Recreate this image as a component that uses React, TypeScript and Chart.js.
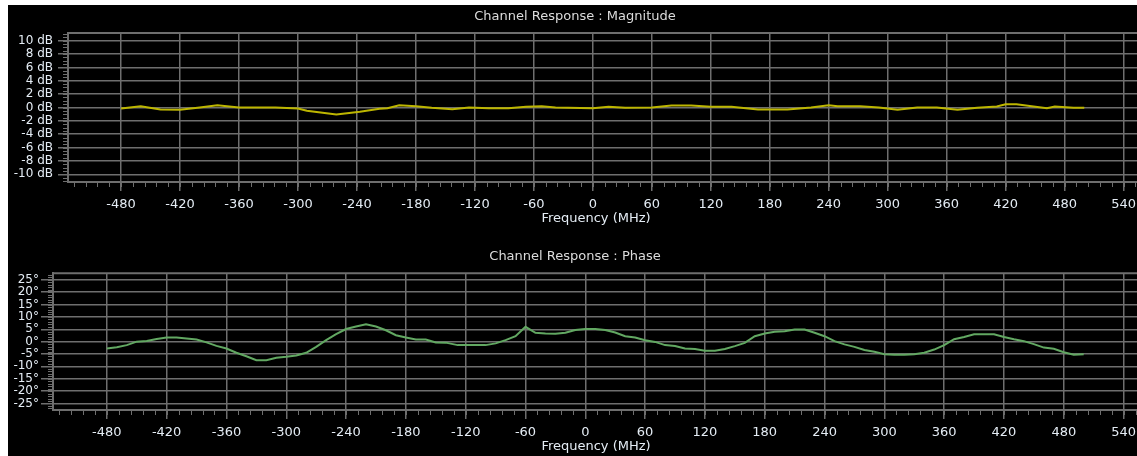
import React, { useEffect, useRef } from 'react';
import { Chart, registerables } from 'chart.js';

Chart.register(...registerables);

// ---------- data ----------
const freqTicks = [-480, -420, -360, -300, -240, -180, -120, -60, 0, 60, 120, 180, 240, 300, 360, 420, 480, 540];
const magTicks = [-10, -8, -6, -4, -2, 0, 2, 4, 6, 8, 10];
const phaseTicks = [-25, -20, -15, -10, -5, 0, 5, 10, 15, 20, 25];

const magFreq = [-480, -460, -440, -420, -400, -382, -360, -323, -300, -291, -261, -237, -217, -209, -197, -180, -164, -143, -126, -106, -86, -68, -52, -38, 0, 16, 33, 60, 80, 100, 120, 141, 168, 198, 222, 240, 249, 272, 291, 310, 330, 350, 371, 391, 411, 420, 431, 462, 470, 489, 500];
const magDb = [-0.15, 0.2, -0.3, -0.35, 0.0, 0.35, 0.0, 0.0, -0.15, -0.5, -1.05, -0.65, -0.2, -0.1, 0.35, 0.2, -0.05, -0.25, 0.0, -0.1, -0.1, 0.1, 0.2, 0.0, -0.1, 0.1, -0.05, 0.0, 0.3, 0.3, 0.1, 0.1, -0.3, -0.3, 0.0, 0.35, 0.2, 0.2, 0.0, -0.35, 0.0, 0.0, -0.35, -0.05, 0.15, 0.5, 0.5, -0.1, 0.15, -0.05, -0.05];

const phaseFreq = [-480, -470, -460, -450, -440, -430, -420, -410, -400, -390, -380, -370, -360, -350, -340, -330, -320, -310, -300, -290, -280, -270, -260, -250, -240, -230, -220, -210, -200, -190, -180, -170, -160, -150, -140, -128, -120, -100, -90, -80, -70, -60, -50, -40, -30, -20, -10, 0, 10, 20, 30, 40, 50, 60, 70, 80, 90, 100, 110, 120, 130, 140, 150, 160, 170, 180, 190, 200, 210, 220, 230, 240, 250, 260, 270, 280, 290, 300, 310, 320, 330, 340, 350, 360, 370, 380, 390, 400, 410, 420, 430, 440, 450, 460, 470, 480, 490, 500];
const phaseDeg = [-2.75, -2.3, -1.4, 0.0, 0.3, 1.1, 1.7, 1.7, 1.3, 0.9, -0.3, -1.7, -2.8, -4.5, -5.9, -7.5, -7.5, -6.5, -6.1, -5.6, -4.5, -2.1, 0.6, 3.0, 5.1, 6.1, 7.0, 6.1, 4.6, 2.6, 1.7, 0.9, 0.9, -0.3, -0.4, -1.4, -1.4, -1.4, -0.7, 0.6, 2.2, 6.0, 3.6, 3.3, 3.2, 3.6, 4.7, 5.1, 5.1, 4.7, 3.7, 2.2, 1.7, 0.6, -0.1, -1.4, -1.8, -2.8, -3.0, -3.7, -3.7, -3.0, -1.8, -0.5, 2.2, 3.3, 4.0, 4.2, 4.9, 4.9, 3.6, 2.2, 0.2, -1.1, -2.1, -3.4, -4.1, -5.1, -5.3, -5.3, -5.1, -4.5, -3.2, -1.4, 1.0, 1.9, 3.0, 3.0, 3.0, 1.9, 1.0, 0.2, -1.0, -2.4, -2.9, -4.3, -5.3, -5.1];

// ---------- styles ----------
const FONT = 'DejaVu Sans';
const GRID = '#6e6e6e';
const TXT = '#e4ecf4';
const TITLE = '#dcdcdc';
const X_TITLE = 'Frequency (MHz)';

const frameAndMinorTicks = {
  id: 'frameAndMinorTicks',
  beforeDatasetsDraw(chart: any, _args: any, opts: any) {
    const { ctx, chartArea, scales } = chart;
    const xs = scales.x;
    const ys = scales.y;
    ctx.save();
    ctx.strokeStyle = opts.color;
    ctx.lineWidth = 1;
    ctx.beginPath();
    for (let v = opts.xStart; v <= xs.max; v += opts.xStep) {
      const px = Math.round(xs.getPixelForValue(v)) + 0.5;
      ctx.moveTo(px, chartArea.bottom);
      ctx.lineTo(px, chartArea.bottom + opts.len);
    }
    for (let v = Math.ceil(ys.min / opts.yStep) * opts.yStep; v <= ys.max; v += opts.yStep) {
      const py = Math.round(ys.getPixelForValue(v)) + 0.5;
      ctx.moveTo(chartArea.left - opts.len, py);
      ctx.lineTo(chartArea.left, py);
    }
    ctx.stroke();
    ctx.lineWidth = 2;
    ctx.beginPath();
    ctx.moveTo(chartArea.left, chartArea.top);
    ctx.lineTo(chartArea.right, chartArea.top);
    ctx.stroke();
    // x-axis title, centred where the original application put it
    ctx.fillStyle = opts.textColor;
    ctx.font = `13px "${FONT}"`;
    ctx.textAlign = 'center';
    ctx.textBaseline = 'middle';
    ctx.fillText(opts.xTitle, opts.xTitleX, chartArea.bottom + opts.xTitleDy);
    ctx.restore();
  },
};

type PanelProps = {
  left: number;
  top: number;
  width: number;
  height: number;
  title: string;
  titlePad: { top: number; bottom: number };
  xs: number[];
  ys: number[];
  color: string;
  yMin: number;
  yMax: number;
  yTicks: number[];
  ySuffix: string;
  yWidth: number;
  yTickLen: number;
  yPad: number;
  yMinorStep: number;
};

function Panel(p: PanelProps) {
  const ref = useRef<HTMLCanvasElement | null>(null);
  useEffect(() => {
    if (!ref.current) return;
    const font13 = { family: FONT, size: 13, weight: 'normal' as const };
    const font12 = { family: FONT, size: 12, weight: 'normal' as const };
    const chart = new Chart(ref.current, {
      type: 'line',
      data: {
        datasets: [
          {
            data: p.xs.map((f, i) => ({ x: f, y: p.ys[i] })),
            borderColor: p.color,
            borderWidth: 2,
            pointRadius: 0,
            tension: 0,
            fill: false,
          },
        ],
      },
      options: {
        animation: false,
        responsive: false,
        devicePixelRatio: 1,
        layout: { padding: 0 },
        plugins: {
          legend: { display: false },
          tooltip: { enabled: false },
          title: {
            display: true,
            text: p.title,
            color: TITLE,
            font: font13,
            padding: p.titlePad,
          },
          frameAndMinorTicks: {
            color: GRID,
            xStart: -528,
            xStep: 12,
            yStep: p.yMinorStep,
            len: 5,
            textColor: TXT,
            xTitle: X_TITLE,
            xTitleX: 588,
            xTitleDy: 37,
          },
        } as any,
        scales: {
          x: {
            type: 'linear',
            min: -534,
            max: 555,
            bounds: 'data',
            afterBuildTicks: (s: any) => {
              s.ticks = freqTicks.map((v) => ({ value: v }));
            },
            afterFit: (s: any) => {
              s.height = 48;
            },
            grid: { color: GRID, lineWidth: 1.5, tickLength: 9, tickColor: GRID, tickWidth: 1.5 },
            border: { display: true, color: GRID, width: 2 },
            ticks: {
              color: TXT,
              font: font13,
              padding: 6,
              maxRotation: 0,
              autoSkip: false,
              callback: (v: any) => String(v),
            },
            title: { display: false },
          },
          y: {
            type: 'linear',
            min: p.yMin,
            max: p.yMax,
            bounds: 'data',
            afterBuildTicks: (s: any) => {
              s.ticks = p.yTicks.map((v) => ({ value: v }));
            },
            afterFit: (s: any) => {
              s.width = p.yWidth;
            },
            grid: { color: GRID, lineWidth: 1.5, tickLength: p.yTickLen, tickColor: GRID, tickWidth: 1.5 },
            border: { display: true, color: GRID, width: 2 },
            ticks: {
              color: TXT,
              font: font12,
              padding: p.yPad,
              autoSkip: false,
              callback: (v: any) => `${v}${p.ySuffix}`,
            },
          },
        },
      } as any,
      plugins: [frameAndMinorTicks],
    });
    return () => chart.destroy();
  }, []);
  return (
    <canvas
      ref={ref}
      width={p.width}
      height={p.height}
      style={{ position: 'absolute', left: p.left, top: p.top, width: p.width, height: p.height }}
    />
  );
}

export default function App() {
  return (
    <div
      style={{
        position: 'absolute',
        left: 0,
        top: 0,
        width: 1137,
        height: 456,
        overflow: 'hidden',
        background: '#ffffff',
      }}
    >
      <div style={{ position: 'absolute', left: 8, top: 5, right: 0, bottom: 0, background: '#000000' }} />
      <Panel
        left={8}
        top={5}
        width={1134}
        height={225}
        title="Channel Response : Magnitude"
        titlePad={{ top: 4.2, bottom: 8.2 }}
        xs={magFreq}
        ys={magDb}
        color="#bdb600"
        yMin={-11.15}
        yMax={11.15}
        yTicks={magTicks}
        ySuffix=" dB"
        yWidth={60}
        yTickLen={10}
        yPad={5}
        yMinorStep={0.5}
      />
      <Panel
        left={8}
        top={240}
        width={1134}
        height={218}
        title="Channel Response : Phase"
        titlePad={{ top: 8.9, bottom: 8.8 }}
        xs={phaseFreq}
        ys={phaseDeg}
        color="#62a862"
        yMin={-27.65}
        yMax={27.65}
        yTicks={phaseTicks}
        ySuffix="°"
        yWidth={45}
        yTickLen={12}
        yPad={2}
        yMinorStep={1}
      />
    </div>
  );
}
